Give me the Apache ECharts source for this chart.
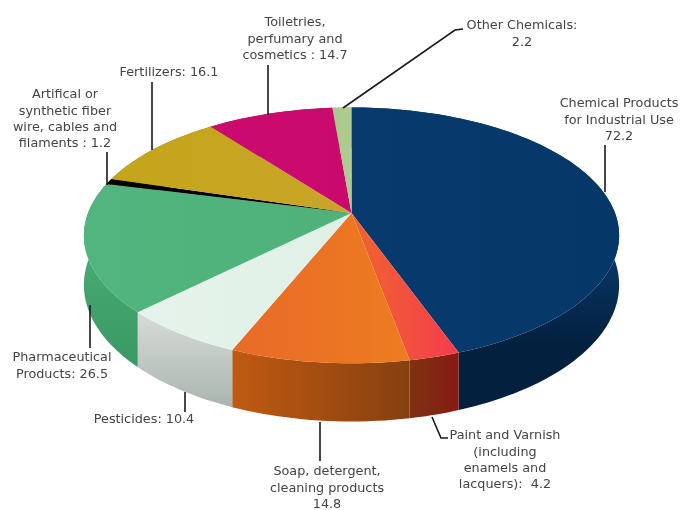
<!DOCTYPE html>
<html><head><meta charset="utf-8">
<style>html,body{margin:0;padding:0;background:#fff}#c{width:686px;height:510px}</style>
<script src="https://cdn.jsdelivr.net/npm/echarts@6/dist/echarts.min.js"></script>
</head><body><div id="c"></div>
<script>
const categories = ['Chemical Products for Industrial Use','Paint and Varnish (including enamels and lacquers)','Soap, detergent, cleaning products','Pesticides','Pharmaceutical Products','Artifical or synthetic fiber wire, cables and filaments','Fertilizers','Toiletries, perfumary and cosmetics','Other Chemicals'];
const values = [72.2,4.2,14.8,10.4,26.5,1.2,16.1,14.7,2.2];
const labelLines = [
  ['Chemical Products','for Industrial Use','72.2'],
  ['Paint and Varnish','(including','enamels and','lacquers):  4.2'],
  ['Soap, detergent,','cleaning products','14.8'],
  ['Pesticides: 10.4'],
  ['Pharmaceutical','Products: 26.5'],
  ['Artifical or','synthetic fiber','wire, cables and','filaments : 1.2'],
  ['Fertilizers: 16.1'],
  ['Toiletries,','perfumary and','cosmetics : 14.7'],
  ['Other Chemicals:','2.2']
];
const topColors = [
  ['#083a6e','#053768'],['#f0652e','#f53c4e'],['#e86a28','#ee7c20'],['#e6f3ec','#dff0e6'],
  ['#52b47e','#4fb27a'],['#000000','#000000'],['#c4a51a','#c9a528'],['#cc0a70','#c90a6c'],['#a9c98c','#b0cc90']
];
const wallColors = [
  {from:'#0a3a6c',to:'#03203f',start:[0,240],end:[0,345]},
  {from:'#7e3212',to:'#861a14',start:[410,0],end:[458,0]},
  {from:'#c05a12',to:'#86400f',start:[232,0],end:[410,0]},
  {from:'#d6dad6',to:'#a9b4ae',start:[0,315],end:[0,410]},
  {from:'#4bab74',to:'#3a9a63',start:[0,240],end:[0,360]},
  {from:'#000000',to:'#000000',start:[0,180],end:[0,250]},
  {from:'#a08414',to:'#a08414',start:[0,150],end:[0,200]},
  {from:'#a00858',to:'#a00858',start:[0,120],end:[0,170]},
  {from:'#88a870',to:'#88a870',start:[0,110],end:[0,160]}
];
const labelLayout = [
  {x:619,y:104,line:[[605,145],[605,192]]},
  {x:505,y:436,line:[[432,417],[441,438],[448,438]]},
  {x:327,y:472,line:[[320,422],[320,461]]},
  {x:144,y:420,line:[[185,392],[185,412]]},
  {x:62,y:358,line:[[90,305],[90,348]]},
  {x:65,y:95,line:[[107,152],[107,185]]},
  {x:169,y:73,line:[[152,82],[152,150]]},
  {x:295,y:23,line:[[268,65],[268,115]]},
  {x:522,y:26,line:[[343,108],[455,30],[463,29]]}
];
const PIE = {cx:351.5, cy:213, b:263.5, a:124, k:0.175, depth:48};
const total = values.reduce((s,v)=>s+v,0);
let run = 0;
const slices = values.map((v,i)=>{const s=run; run+=v; return {name:categories[i],value:[s/total*360,run/total*360,i,v]};});

function project(deg,r,drop){
  const t=deg*Math.PI/180, u=r*Math.sin(t), v=r*Math.cos(t), w=1+PIE.k*v;
  return [PIE.cx+PIE.b*u/w, PIE.cy-PIE.a*v/w+(drop?PIE.depth/w:0)];
}
function arc(s,e,drop){
  const n=Math.max(2,Math.ceil((e-s)/1.5)), p=[];
  for(let j=0;j<=n;j++) p.push(project(s+(e-s)*j/n,1,drop));
  return p;
}
function renderWalls(params,api){
  const s=api.value(0), e=api.value(1), i=api.value(2), c=wallColors[i];
  const pts=arc(s,e,false).concat(arc(s,e,true).reverse());
  return {type:'polygon',shape:{points:pts},z2:1,style:{
    fill:new echarts.graphic.LinearGradient(c.start[0],c.start[1],c.end[0],c.end[1],[{offset:0,color:c.from},{offset:1,color:c.to}],true)}};
}
function renderTops(params,api){
  const s=api.value(0), e=api.value(1), i=api.value(2), c=topColors[i];
  const pts=[project(0,0,false)].concat(arc(s,e,false));
  return {type:'polygon',shape:{points:pts},z2:2,style:{
    fill:new echarts.graphic.LinearGradient(0,0,1,0,[{offset:0,color:c[0]},{offset:1,color:c[1]}])}};
}
function renderLabels(params,api){
  const i=api.value(2), L=labelLayout[i], kids=[];
  kids.push({type:'polyline',shape:{points:L.line},style:{fill:'none',stroke:'#1a1a1a',lineWidth:1.6},z2:3});
  labelLines[i].forEach((t,n)=>kids.push({type:'text',z2:4,style:{text:t,x:L.x,y:L.y+n*16.2,align:'center',verticalAlign:'middle',
    fill:'#444444',font:'12.8px "DejaVu Sans"'}}));
  return {type:'group',children:kids};
}
const chart=echarts.init(document.getElementById('c'),null,{renderer:'canvas'});
chart.setOption({
  backgroundColor:'#ffffff',animation:false,tooltip:{show:false},
  series:[
    {type:'custom',coordinateSystem:'none',name:'walls',renderItem:renderWalls,data:slices,z:1,silent:true},
    {type:'custom',coordinateSystem:'none',name:'tops',renderItem:renderTops,data:slices,z:2,silent:true},
    {type:'custom',coordinateSystem:'none',name:'labels',renderItem:renderLabels,data:slices,z:3,silent:true}
  ]
});
</script></body></html>
